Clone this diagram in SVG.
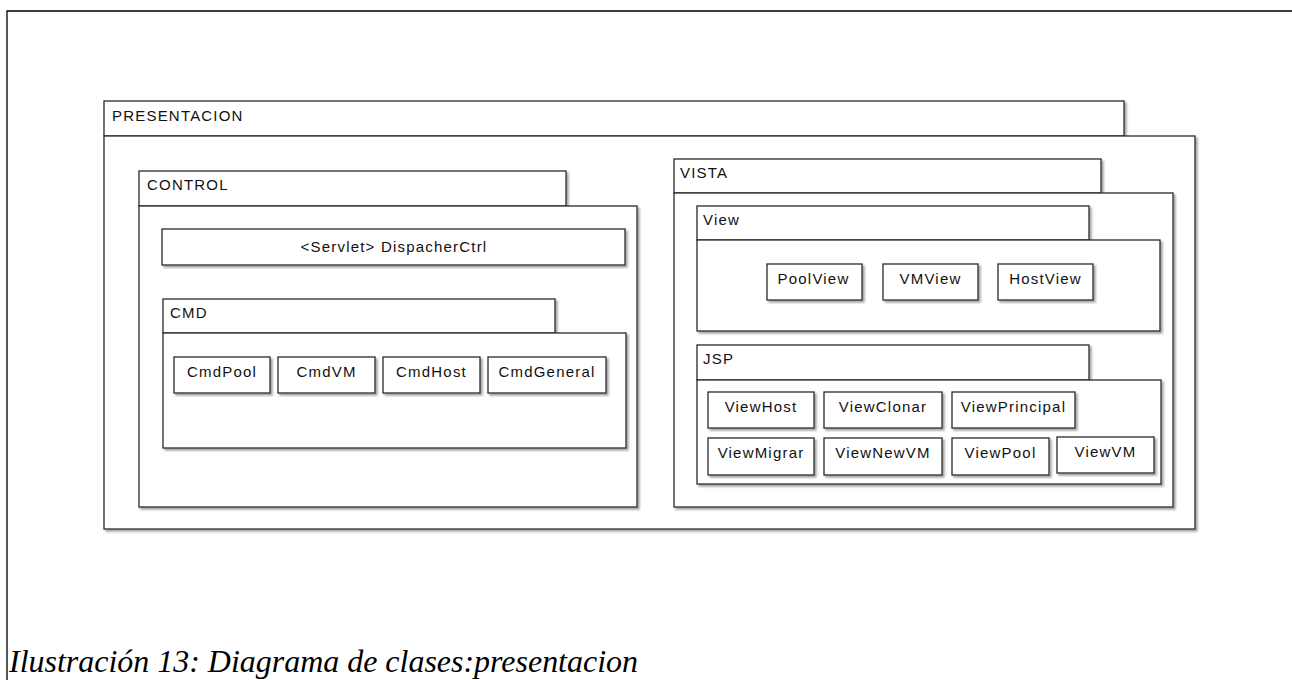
<svg xmlns="http://www.w3.org/2000/svg" width="1292" height="680" viewBox="0 0 1292 680">
<defs>
<filter id="sh" x="-5%" y="-5%" width="110%" height="115%">
<feDropShadow dx="2" dy="2" stdDeviation="1" flood-color="#777" flood-opacity="0.7"/>
</filter>
</defs>
<style>
.b{fill:#fff;stroke:#2a2a2a;stroke-width:1.3;filter:url(#sh)}
.t{font-family:"Liberation Sans",Arial,sans-serif;font-size:15px;letter-spacing:1.2px;fill:#111}
.c{text-anchor:middle}
.cap{font-family:"Liberation Serif","Times New Roman",serif;font-style:italic;font-size:31px;fill:#000}
</style>
<rect width="1292" height="680" fill="#fff"/>
<path d="M7 680 V11 H1292" fill="none" stroke="#000" stroke-width="1.3"/>

<g id="presentacion">
<rect class="b" x="104" y="101" width="1020" height="35"/>
<rect class="b" x="104" y="136" width="1091" height="393"/>
<text class="t" x="112" y="121">PRESENTACION</text>
</g>

<g id="control">
<rect class="b" x="139" y="171" width="427" height="35"/>
<rect class="b" x="139" y="206" width="498" height="301"/>
<text class="t" x="147" y="190">CONTROL</text>
</g>
<g id="dispacherctrl">
<rect class="b" x="162" y="229" width="463" height="36"/>
<text class="t c" x="394" y="252">&lt;Servlet&gt; DispacherCtrl</text>
</g>
<g id="cmd">
<rect class="b" x="163" y="299" width="392" height="34"/>
<rect class="b" x="163" y="333" width="463" height="115"/>
<text class="t" x="170" y="318">CMD</text>
</g>
<g id="cmdpool"><rect class="b" x="174" y="357" width="96" height="36"/><text class="t c" x="222" y="377">CmdPool</text></g>
<g id="cmdvm"><rect class="b" x="278" y="357" width="97" height="36"/><text class="t c" x="326.5" y="377">CmdVM</text></g>
<g id="cmdhost"><rect class="b" x="383" y="357" width="97" height="36"/><text class="t c" x="431.5" y="377">CmdHost</text></g>
<g id="cmdgeneral"><rect class="b" x="488" y="357" width="118" height="36"/><text class="t c" x="547" y="377">CmdGeneral</text></g>

<g id="vista">
<rect class="b" x="674" y="159" width="427" height="34"/>
<rect class="b" x="674" y="193" width="499" height="314"/>
<text class="t" x="680" y="178">VISTA</text>
</g>
<g id="view">
<rect class="b" x="697" y="206" width="392" height="34"/>
<rect class="b" x="697" y="240" width="463" height="91"/>
<text class="t" x="703" y="225">View</text>
</g>
<g id="poolview"><rect class="b" x="767" y="264" width="95" height="36"/><text class="t c" x="813.5" y="284">PoolView</text></g>
<g id="vmview"><rect class="b" x="883" y="264" width="95" height="36"/><text class="t c" x="930.5" y="284">VMView</text></g>
<g id="hostview"><rect class="b" x="998" y="264" width="95" height="36"/><text class="t c" x="1045.5" y="284">HostView</text></g>

<g id="jsp">
<rect class="b" x="697" y="345" width="392" height="35"/>
<rect class="b" x="697" y="380" width="464" height="104"/>
<text class="t" x="703" y="364">JSP</text>
</g>
<g id="viewhost"><rect class="b" x="708" y="392" width="106" height="36"/><text class="t c" x="761" y="412">ViewHost</text></g>
<g id="viewclonar"><rect class="b" x="824" y="392" width="118" height="36"/><text class="t c" x="883" y="412">ViewClonar</text></g>
<g id="viewprincipal"><rect class="b" x="952" y="392" width="123" height="36"/><text class="t c" x="1013.5" y="412">ViewPrincipal</text></g>
<g id="viewmigrar"><rect class="b" x="708" y="438" width="106" height="37"/><text class="t c" x="761" y="458">ViewMigrar</text></g>
<g id="viewnewvm"><rect class="b" x="824" y="438" width="118" height="37"/><text class="t c" x="883" y="458">ViewNewVM</text></g>
<g id="viewpool"><rect class="b" x="952" y="438" width="97" height="37"/><text class="t c" x="1000.5" y="458">ViewPool</text></g>
<g id="viewvm"><rect class="b" x="1057" y="437" width="97" height="36"/><text class="t c" x="1105.5" y="457">ViewVM</text></g>

<g id="connectors"></g>

<text class="cap" x="9" y="672" textLength="629" lengthAdjust="spacingAndGlyphs">Ilustración 13: Diagrama de clases:presentacion</text>
</svg>
